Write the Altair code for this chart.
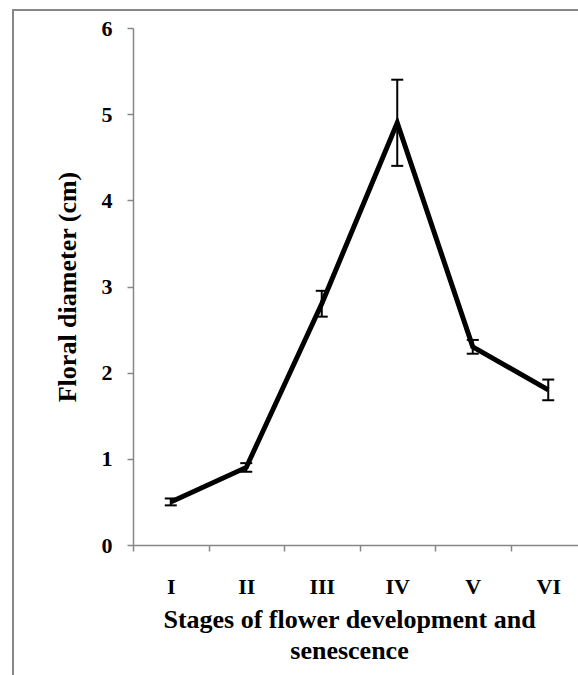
import altair as alt
import pandas as pd

# Floral diameter across the six stages of flower development and senescence
stages = ["I", "II", "III", "IV", "V", "VI"]
diameter = [0.5, 0.9, 2.8, 4.9, 2.3, 1.8]
std_err = [0.04, 0.05, 0.15, 0.5, 0.08, 0.12]

df = pd.DataFrame({"stage": stages, "diameter": diameter, "err": std_err})
df["lo"] = df["diameter"] - df["err"]
df["hi"] = df["diameter"] + df["err"]

FONT = "Liberation Serif"
GRAY = "#878787"

x_scale = alt.Scale(type="band", domain=stages, range=[0, 453],
                    paddingInner=0, paddingOuter=0)
y_scale = alt.Scale(domain=[0, 6], nice=False)

x_axis = alt.Axis(
    title=["Stages of flower development and", "senescence"],
    labelAngle=0, tickBand="extent",
    labelBaseline="alphabetic", labelPadding=42,
    titleX=216, titleY=82, titleAlign="center", titleBaseline="alphabetic",
    titleLineHeight=31,
)
y_axis = alt.Axis(
    title="Floral diameter (cm)", values=[0, 1, 2, 3, 4, 5, 6], format="d",
    labelPadding=15, labelBaseline="middle",
    titleX=-58, titleY=258.5, titleAngle=270, titleAlign="center",
    titleBaseline="alphabetic",
)

base = alt.Chart(df)
x_enc = alt.X("stage:N", sort=stages, bandPosition=0.5, scale=x_scale, axis=x_axis)

line = base.mark_line(color="black", strokeWidth=5, strokeJoin="miter").encode(
    x=x_enc,
    y=alt.Y("diameter:Q", scale=y_scale, axis=y_axis),
)

whisker = base.mark_rule(color="black", strokeWidth=2).encode(
    x=x_enc, y=alt.Y("lo:Q", scale=y_scale), y2="hi:Q"
)
cap_lo = base.mark_tick(color="black", thickness=2, size=12, opacity=1).encode(
    x=x_enc, y=alt.Y("lo:Q", scale=y_scale)
)
cap_hi = base.mark_tick(color="black", thickness=2, size=12, opacity=1).encode(
    x=x_enc, y=alt.Y("hi:Q", scale=y_scale)
)

# chart-area border
frame = alt.Chart(pd.DataFrame({"k": [0]})).mark_rect(
    fillOpacity=0, stroke=GRAY, strokeWidth=2
).encode(
    x=alt.value(-120), x2=alt.value(800), y=alt.value(-18), y2=alt.value(900)
)

chart = alt.layer(frame, line, whisker, cap_lo, cap_hi).properties(
    width=445, height=517,
    autosize=alt.AutoSizeParams(type="none"),
    padding={"left": 133, "top": 28, "right": 0, "bottom": 130},
    background="white",
).configure_view(stroke=None).configure_axis(
    grid=False,
    domainColor=GRAY, domainWidth=1.5,
    tickColor=GRAY, tickWidth=1.5, tickSize=6,
    labelFont=FONT, labelFontSize=22, labelFontWeight="bold", labelColor="black",
    titleFont=FONT, titleFontSize=26, titleFontWeight="bold", titleColor="black",
)

chart.save("out.html", embed_options={"renderer": "svg", "actions": False})
